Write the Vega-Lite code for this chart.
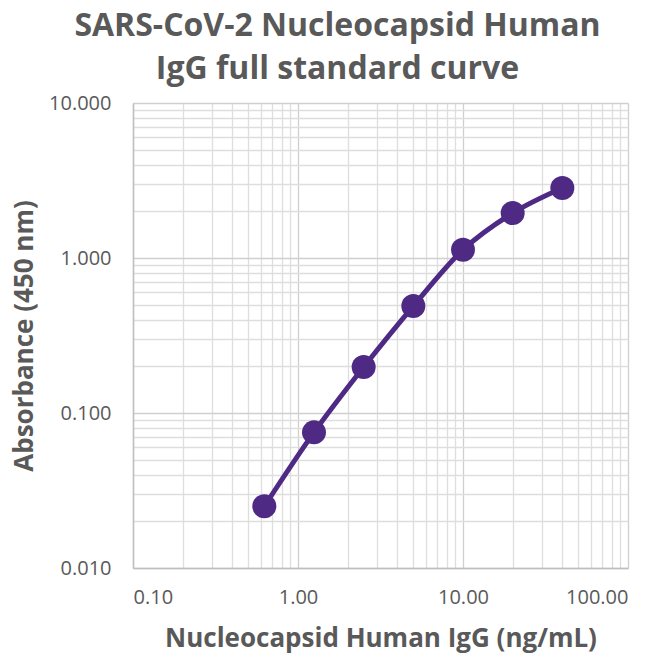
{
  "$schema": "https://vega.github.io/schema/vega-lite/v6.json",
  "width": 495,
  "height": 465,
  "autosize": "none",
  "padding": {"left": 133, "top": 103, "right": 34, "bottom": 89},
  "background": "white",
  "title": {
    "text": ["SARS-CoV-2 Nucleocapsid Human", "IgG full standard curve"],
    "font": "Open Sans",
    "fontSize": 32,
    "fontWeight": "bold",
    "color": "#595959",
    "anchor": "middle",
    "dx": -43,
    "offset": 7,
    "lineHeight": 43
  },
  "config": {
    "view": {"stroke": null},
    "axis": {"labelFont": "Open Sans", "titleFont": "Open Sans", "labelColor": "#595959", "titleColor": "#595959"}
  },
  "data": {
    "values": [
      {"conc": 0.625, "abs": 0.025},
      {"conc": 1.25, "abs": 0.075},
      {"conc": 2.5, "abs": 0.198},
      {"conc": 5, "abs": 0.49},
      {"conc": 10, "abs": 1.13},
      {"conc": 20, "abs": 1.95},
      {"conc": 40, "abs": 2.83}
    ]
  },
  "encoding": {
    "x": {
      "field": "conc",
      "type": "quantitative",
      "scale": {"type": "log", "domain": [0.1, 100], "nice": false},
      "axis": {
        "title": "Nucleocapsid Human IgG (ng/mL)",
        "titleFontSize": 26,
        "titleFontWeight": "bold",
        "titlePadding": 18,
        "values": [0.1,0.2,0.3,0.4,0.5,0.6,0.7,0.8,0.9,1,2,3,4,5,6,7,8,9,10,20,30,40,50,60,70,80,90,100],
        "labelExpr": "abs(log(datum.value)/LN10 - round(log(datum.value)/LN10)) < 0.001 ? format(datum.value, '.2f') : ''",
        "labelFontSize": 20,
        "labelPadding": 19,
        "ticks": false,
        "domainColor": "#bfbfbf",
        "domainWidth": 1.5,
        "grid": true,
        "gridColor": {"condition": {"test": "abs(log(datum.value)/LN10 - round(log(datum.value)/LN10)) < 0.001", "value": "#cfcfcf"}, "value": "#dedede"},
        "gridWidth": 1.3,
        "labelOverlap": false
      }
    },
    "y": {
      "field": "abs",
      "type": "quantitative",
      "scale": {"type": "log", "domain": [0.01, 10], "nice": false},
      "axis": {
        "title": "Absorbance (450 nm)",
        "titleFontSize": 26,
        "titleFontWeight": "bold",
        "titlePadding": 11,
        "values": [0.01,0.02,0.03,0.04,0.05,0.06,0.07,0.08,0.09,0.1,0.2,0.3,0.4,0.5,0.6,0.7,0.8,0.9,1,2,3,4,5,6,7,8,9,10],
        "labelExpr": "abs(log(datum.value)/LN10 - round(log(datum.value)/LN10)) < 0.001 ? format(datum.value, '.3f') : ''",
        "labelFontSize": 20,
        "labelPadding": 22,
        "ticks": false,
        "domainColor": "#bfbfbf",
        "domainWidth": 1.5,
        "grid": true,
        "gridColor": {"condition": {"test": "abs(log(datum.value)/LN10 - round(log(datum.value)/LN10)) < 0.001", "value": "#cfcfcf"}, "value": "#dedede"},
        "gridWidth": 1.3,
        "labelOverlap": false
      }
    }
  },
  "layer": [
    {"mark": {"type": "line", "interpolate": "monotone", "color": "#4E2A84", "strokeWidth": 5}},
    {"mark": {"type": "point", "filled": true, "shape": "circle", "size": 576, "color": "#4E2A84", "opacity": 1}}
  ]
}
